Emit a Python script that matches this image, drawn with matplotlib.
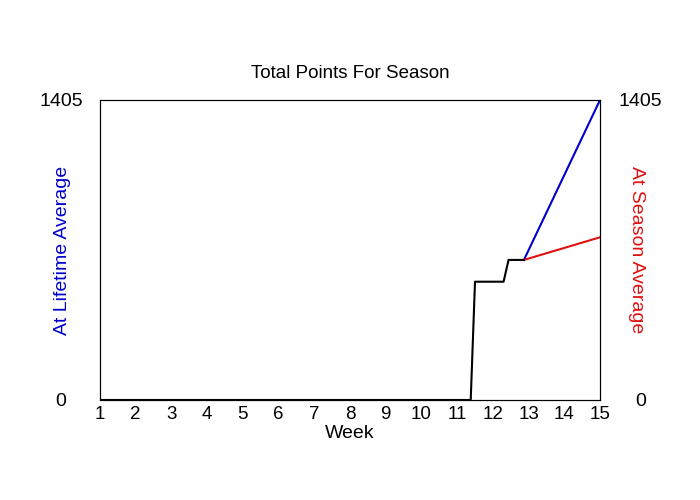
import matplotlib
matplotlib.use('Agg')
import matplotlib.pyplot as plt

plt.rcParams['font.family'] = ['Liberation Sans', 'DejaVu Sans']

# actual season points (black)
actual_week = [1, 11.38, 11.5, 12.3, 12.44, 12.87]
actual_pts = [0, 0, 554, 554, 656, 656]
# projections from the last actual point
proj_week = [12.87, 15]
lifetime_pts = [656, 1405]
season_pts = [656, 762]

y_max = 1405
weeks = list(range(1, 16))

fig = plt.figure(figsize=(7, 5), dpi=100)
ax = fig.add_axes([100/700, 0.2, 500/700, 0.6])

ax.plot(actual_week, actual_pts, color='black', lw=1.5, zorder=3)
ax.plot(proj_week, lifetime_pts, color='#0000cc', lw=1.5)
ax.plot(proj_week, season_pts, color='#e01010', lw=1.5)

ax.set_xlim(1, 15)
ax.set_ylim(0, y_max)
ax.set_xticks(weeks)
ax.set_xticklabels([str(w) for w in weeks], fontsize=13.5)
ax.set_yticks([0, y_max])
ax.set_yticklabels(['0', str(y_max)], fontsize=14, ha='center')
ax.tick_params(axis='x', length=0, pad=4)
ax.tick_params(axis='y', length=0, pad=28)
ax.set_xlabel('Week', fontsize=14, labelpad=2)
ax.set_ylabel('At Lifetime Average', color='#0000cc', fontsize=14)
ax.yaxis.set_label_coords(-0.058, 0.5)
ax.set_title('Total Points For Season', fontsize=13.5, pad=16)

ax2 = ax.twinx()
ax2.set_ylim(0, y_max)
ax2.set_yticks([0, y_max])
ax2.set_yticklabels(['0', str(y_max)], fontsize=14, ha='center')
ax2.tick_params(axis='y', length=0, pad=29)
ax2.set_ylabel('At Season Average', color='#e01010', fontsize=14, rotation=270, va='bottom')
ax2.yaxis.set_label_coords(1.056, 0.5)

plt.savefig('out.png', dpi=100)
